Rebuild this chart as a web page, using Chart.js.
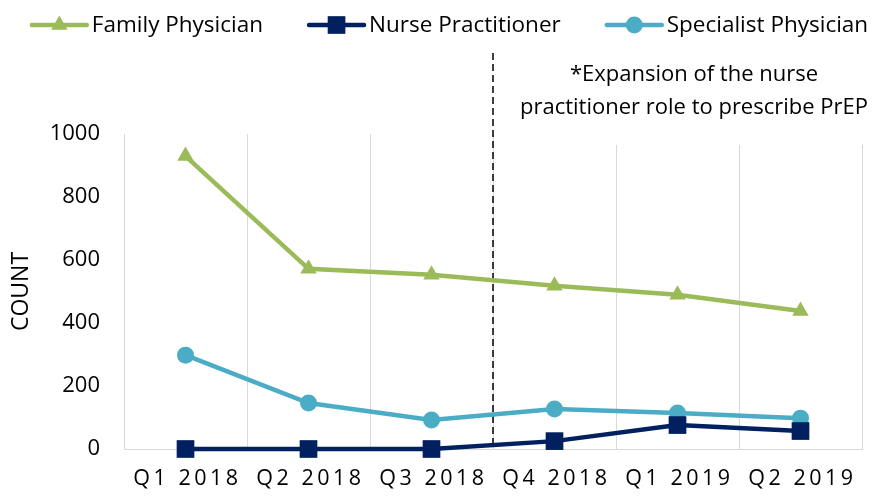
<!DOCTYPE html>
<html lang="en">
<head>
<meta charset="UTF-8">
<title>PrEP prescribers by type</title>
<script src="https://cdn.jsdelivr.net/npm/chart.js"></script>
<style>
  html, body { margin: 0; padding: 0; background: #fff; }
  #wrap { width: 878px; height: 496px; }
</style>
</head>
<body>
<div id="wrap"><canvas id="chart"></canvas></div>
<script>
const quarters = ['Q1 2018', 'Q2 2018', 'Q3 2018', 'Q4 2018', 'Q1 2019', 'Q2 2019'];
const familyPhysician = [930, 572, 553, 518, 490, 438];
const nursePractitioner = [0, 0, 0, 25, 76, 57];
const specialistPhysician = [298, 146, 92, 127, 114, 98];
const yTicks = [0, 200, 400, 600, 800, 1000];
const noteLines = ['*Expansion of the nurse', 'practitioner role to prescribe PrEP'];

const FONT = "'Open Sans', 'DejaVu Sans', sans-serif";

// legend drawn by hand: line + marker like the original
const lineLegend = {
    id: 'lineLegend',
    afterDraw(chart) {
        const ctx = chart.ctx;
        const sets = chart.data.datasets;
        ctx.save();
        ctx.font = '22.5px ' + FONT;
        const lineLen = 55, gap = 5, between = 46;
        const widths = sets.map(d => ctx.measureText(d.label).width);
        let total = 0;
        widths.forEach((w, i) => { total += lineLen + gap + w + (i ? between : 0); });
        let x = 450 - total / 2;
        const y = 25;
        sets.forEach((d, i) => {
            ctx.strokeStyle = d.borderColor;
            ctx.lineWidth = 4.5;
            ctx.lineCap = 'round';
            ctx.beginPath();
            ctx.moveTo(x, y);
            ctx.lineTo(x + lineLen, y);
            ctx.stroke();
            ctx.fillStyle = d.pointBackgroundColor;
            ctx.strokeStyle = d.pointBorderColor;
            Chart.helpers.drawPoint(ctx, {
                pointStyle: d.pointStyle,
                radius: d.pointRadius,
                rotation: 0,
                borderWidth: 0
            }, x + lineLen / 2, y);
            ctx.fillStyle = '#000';
            ctx.textBaseline = 'middle';
            ctx.textAlign = 'left';
            ctx.fillText(d.label, x + lineLen + gap, y + 1);
            x += lineLen + gap + widths[i] + between;
        });
        ctx.restore();
    }
};

// dashed marker between Q3 and Q4 2018 plus the note
const changeMarker = {
    id: 'changeMarker',
    beforeDatasetsDraw(chart) {
        const ctx = chart.ctx;
        const xs = chart.scales.x, ys = chart.scales.y;
        ctx.save();
        ctx.fillStyle = '#fff';
        ctx.fillRect(505, 0, 370, 145);
        ctx.fillStyle = '#000';
        ctx.font = '22px ' + FONT;
        ctx.textAlign = 'center';
        ctx.textBaseline = 'middle';
        ctx.fillText(noteLines[0], 694, 75);
        ctx.fillText(noteLines[1], 694, 108);
        const xm = (xs.getPixelForValue(2) + xs.getPixelForValue(3)) / 2;
        ctx.strokeStyle = '#000';
        ctx.lineWidth = 1.5;
        ctx.setLineDash([7, 4]);
        ctx.beginPath();
        ctx.moveTo(xm, 53);
        ctx.lineTo(xm, ys.getPixelForValue(0));
        ctx.stroke();
        ctx.restore();
    }
};

// wider letter spacing on the quarter labels
const spacedTicks = {
    id: 'spacedTicks',
    beforeDraw(chart) {
        const s = chart.scales.x;
        if (s && !s._spaced) {
            const orig = s.drawLabels;
            s.drawLabels = function (area) {
                this.ctx.save();
                this.ctx.letterSpacing = '3.5px';
                this.ctx.translate(2, 0);
                orig.call(this, area);
                this.ctx.restore();
            };
            s._spaced = true;
        }
    }
};

new Chart(document.getElementById('chart'), {
    type: 'line',
    data: {
        labels: quarters,
        datasets: [
            {
                label: 'Family Physician',
                data: familyPhysician,
                borderColor: '#9BBB59',
                pointBackgroundColor: '#9BBB59',
                pointBorderColor: '#9BBB59',
                pointStyle: 'triangle',
                pointRadius: 9.5,
                clip: false
            },
            {
                label: 'Nurse Practitioner',
                data: nursePractitioner,
                borderColor: '#002060',
                pointBackgroundColor: '#002060',
                pointBorderColor: '#002060',
                pointStyle: 'rect',
                pointRadius: 12.5,
                clip: false
            },
            {
                label: 'Specialist Physician',
                data: specialistPhysician,
                borderColor: '#4BACC6',
                pointBackgroundColor: '#4BACC6',
                pointBorderColor: '#4BACC6',
                pointStyle: 'circle',
                pointRadius: 8.5,
                clip: false
            }
        ]
    },
    options: {
        responsive: true,
        maintainAspectRatio: false,
        animation: false,
        elements: {
            line: { borderWidth: 4.5, tension: 0 },
            point: { borderWidth: 0, hoverRadius: 9 }
        },
        layout: { padding: { left: 0, right: 16, top: 134, bottom: 0 } },
        plugins: {
            legend: { display: false },
            tooltip: { enabled: false }
        },
        scales: {
            x: {
                offset: true,
                grid: { offset: true, color: '#D9D9D9', lineWidth: 1, drawTicks: false },
                border: { display: true, color: '#D9D9D9', width: 1 },
                ticks: {
                    color: '#000',
                    font: { family: FONT, size: 21.5 },
                    padding: 17,
                    autoSkip: false,
                    maxRotation: 0
                },
                afterFit(scale) { scale.height = 47; }
            },
            y: {
                min: 0,
                max: 1000,
                afterBuildTicks(scale) { scale.ticks = yTicks.map(v => ({ value: v })); },
                grid: { display: false, drawTicks: false },
                border: { display: false },
                ticks: {
                    color: '#000',
                    font: { family: FONT, size: 22 },
                    padding: 24,
                    callback: v => String(v)
                },
                title: {
                    display: true,
                    text: 'COUNT',
                    color: '#000',
                    font: { family: FONT, size: 23 },
                    padding: { top: 8, bottom: 0 }
                },
                afterFit(scale) { scale.width = 124; }
            }
        }
    },
    plugins: [spacedTicks, changeMarker, lineLegend]
});
</script>
</body>
</html>
